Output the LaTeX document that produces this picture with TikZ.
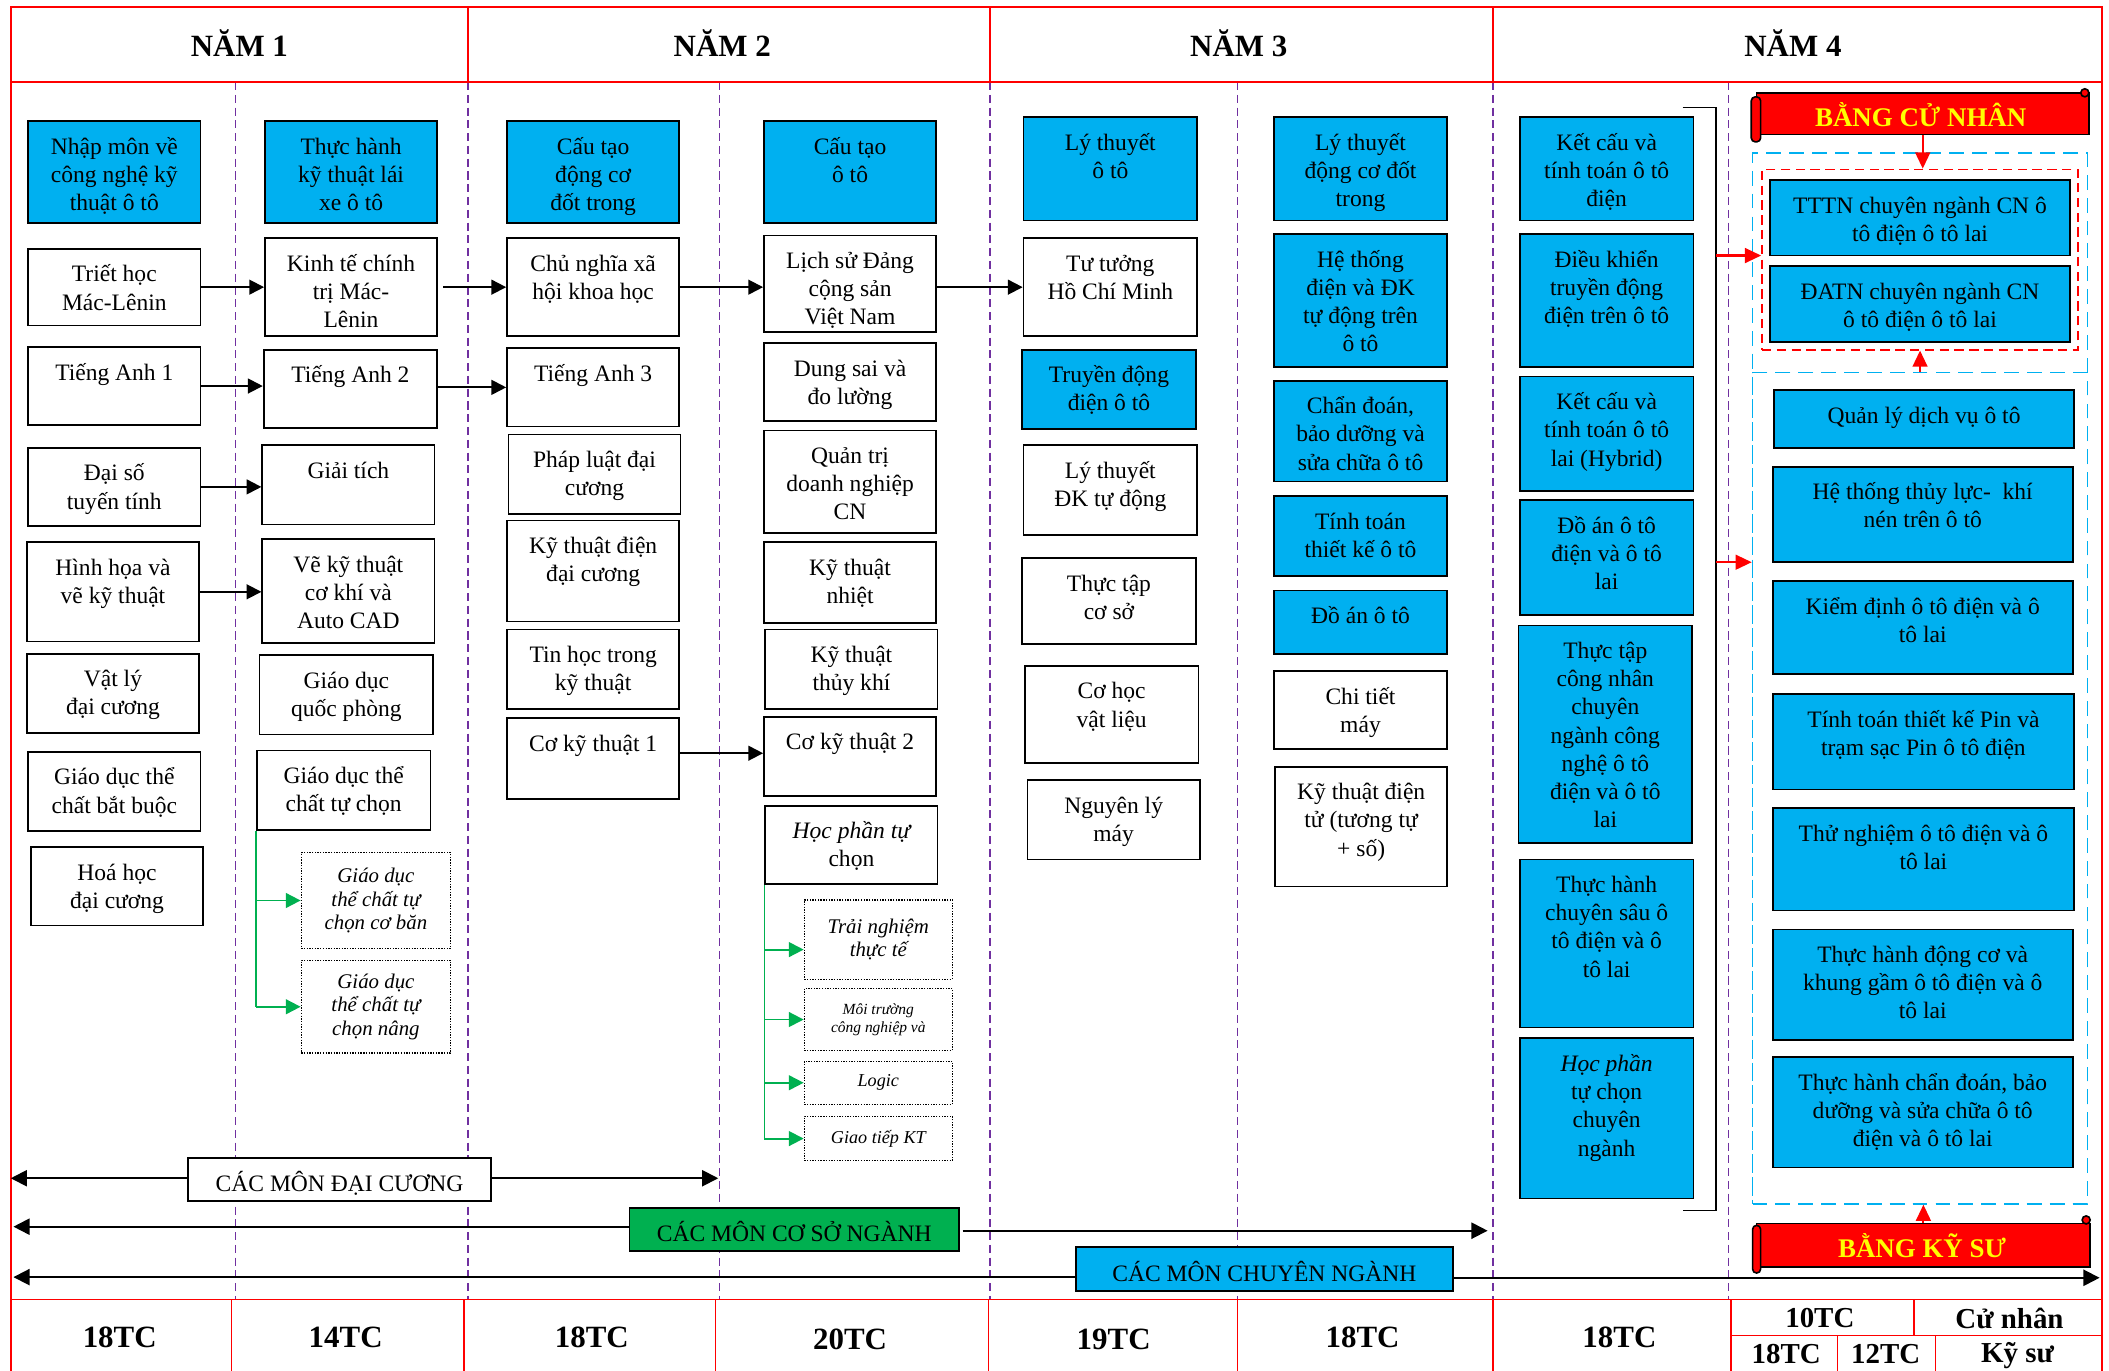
\documentclass[tikz,border=0pt]{standalone}
\usepackage{fontspec}
\setmainfont{Liberation Serif}
\usetikzlibrary{arrows.meta,fit}
\definecolor{cblue}{HTML}{00B0F0}
\definecolor{cgreen}{HTML}{00B050}
\definecolor{cpurple}{HTML}{7030A0}
\definecolor{cyellow}{HTML}{FFFF00}
\tikzset{
 box/.style={draw=black, line width=1.3pt, inner sep=0pt},
 wbox/.style={box, fill=white},
 bbox/.style={box, fill=cblue},
 txt/.style={font=\fontsize{17.5}{21}\selectfont, align=center, inner sep=0pt, anchor=north},
 dbox/.style={draw=black, line width=1pt, densely dotted, inner sep=0pt, align=center, font=\fontsize{15.5}{17.5}\selectfont\itshape},
 arr/.style={line width=1.4pt, -{Triangle[length=11pt,width=11pt]}},
 gline/.style={draw=cgreen, line width=1.4pt},
 garr/.style={draw=cgreen, fill=cgreen, line width=1.4pt, -{Triangle[length=11pt,width=11pt]}},
 rarr/.style={draw=red, fill=red, line width=1.6pt, -{Triangle[length=12pt,width=11pt]}},
 frame/.style={draw=red, line width=1.2pt},
 sem/.style={draw=cpurple, line width=1pt, dash pattern=on 6pt off 3.5pt},
 yearlbl/.style={font=\fontsize{23}{27}\selectfont\bfseries, anchor=base, inner sep=0pt},
 tclbl/.style={font=\fontsize{23}{27}\selectfont\bfseries, anchor=base, inner sep=0pt},
 tcsmall/.style={font=\fontsize{21.5}{25}\selectfont\bfseries, anchor=base, inner sep=0pt},
 span/.style={line width=1.4pt, -{Triangle[length=12pt,width=12pt]}},
 spanbox/.style={draw=black, line width=1.3pt, inner sep=0pt},
 spantxt/.style={font=\fontsize{17.5}{21}\selectfont, anchor=base, inner sep=0pt},
 banner/.style={draw=black, line width=1.2pt, fill=red},
 btxt/.style={font=\fontsize{20}{24}\selectfont\bfseries, text=cyellow, anchor=base, inner sep=0pt},
 rdash/.style={draw=red, line width=1.3pt, dash pattern=on 7pt off 4pt, inner sep=0pt},
 bdash/.style={draw=cblue, line width=1.3pt, dash pattern=on 11pt off 6pt, inner sep=0pt},
}
\newcommand\crs[7][wbox]{%
 \node[#1, fit={(#3,#4)(#5,#6)}] (#2) {};
 \node[txt] (#2t) at ([yshift=-8pt]#2.north) {\rule{0pt}{17pt}#7};}
\begin{document}
\begin{tikzpicture}[x=1pt,y=-1pt]
\useasboundingbox (0,0) rectangle (1568,1019);
\fill[white] (0,0) rectangle (1568,1019);

% semester dividers
\foreach \x in {175,348,535,736,920,1110,1285} \draw[sem] (\x,61) -- (\x,966);

% frame
\draw[frame] (8,1019) -- (8,5) -- (1563,5) -- (1563,1019);
\draw[frame] (8,61) -- (1563,61);
\foreach \x in {348,736,1110} \draw[frame] (\x,5) -- (\x,61);
\draw[frame] (8,966) -- (1563,966);
\foreach \x in {172,345,532,735,920,1110,1287} \draw[frame] (\x,966) -- (\x,1019);
\draw[frame] (1287,993) -- (1563,993);
\draw[frame] (1423,966) -- (1423,993);
\draw[frame] (1366,993) -- (1366,1019);
\draw[frame] (1439,993) -- (1439,1019);

% headers
\node[yearlbl] (y1) at (178,42) {NĂM 1};
\node[yearlbl] (y2) at (537,42) {NĂM 2};
\node[yearlbl] (y3) at (921,42) {NĂM 3};
\node[yearlbl] (y4) at (1333,42) {NĂM 4};

% credits
\node[tclbl] (t1) at (89,1002) {18TC};
\node[tclbl] (t2) at (257,1002) {14TC};
\node[tclbl] (t3) at (440,1002) {18TC};
\node[tclbl] (t4) at (632,1003) {20TC};
\node[tclbl] (t5) at (828,1003) {19TC};
\node[tclbl] (t6) at (1013,1002) {18TC};
\node[tclbl] (t7) at (1204,1002) {18TC};
\node[tcsmall] (t8) at (1353,987) {10TC};
\node[tcsmall] (t9) at (1494,988) {Cử nhân};
\node[tcsmall] (t10) at (1328,1014) {18TC};
\node[tcsmall] (t11) at (1402,1014) {12TC};
\node[tcsmall] (t12) at (1500,1013) {Kỹ sư};

% column 1
\crs[bbox]{a1}{21}{90}{149}{166}{Nhập môn về\\công nghệ kỹ\\thuật ô tô}
\crs{a2}{21}{185}{149}{242}{Triết học\\Mác-Lênin}
\crs{a3}{21}{258}{149}{316}{Tiếng Anh 1}
\crs{a4}{21}{333}{149}{391}{Đại số\\tuyến tính}
\crs{a5}{20}{403}{148}{477}{Hình họa và\\vẽ kỹ thuật}
\crs{a6}{20}{486}{148}{545}{Vật lý\\đại cương}
\crs{a7}{21}{559}{149}{618}{Giáo dục thể\\chất bắt buộc}
\crs{a8}{23}{630}{151}{688}{Hoá học\\đại cương}

% column 2
\crs[bbox]{b1}{197}{90}{325}{166}{Thực hành\\kỹ thuật lái\\xe ô tô}
\crs{b2}{197}{177}{325}{250}{Kinh tế chính\\trị Mác-\\Lênin}
\crs{b3}{196}{260}{325}{318}{Tiếng Anh 2}
\crs{b4}{195}{331}{323}{390}{Giải tích}
\crs{b5}{195}{401}{323}{478}{Vẽ kỹ thuật\\cơ khí và\\Auto CAD}
\crs{b6}{193}{487}{322}{546}{Giáo dục\\quốc phòng}
\crs{b7}{191}{558}{320}{617}{Giáo dục thể\\chất tự chọn}
\node[dbox, minimum width=111pt, minimum height=71pt] (b8) at (279.5,669.5) {Giáo dục\\thể chất tự\\chọn cơ băn};
\node[dbox, minimum width=111pt, minimum height=69pt] (b9) at (279.5,748.5) {Giáo dục\\thể chất tự\\chọn nâng};

% column 3
\crs[bbox]{c1}{377}{90}{505}{166}{Cấu tạo\\động cơ\\đốt trong}
\crs{c2}{377}{177}{505}{250}{Chủ nghĩa xã\\hội khoa học}
\crs{c3}{377}{259}{505}{317}{Tiếng Anh 3}
\crs{c4}{378}{323}{506}{382}{Pháp luật đại\\cương}
\crs{c5}{377}{387}{505}{462}{Kỹ thuật điện\\đại cương}
\crs{c6}{377}{468}{505}{527}{Tin học trong\\kỹ thuật}
\crs{c7}{377}{534}{505}{594}{Cơ kỹ thuật 1}

% column 4
\crs[bbox]{d1}{568}{90}{696}{166}{Cấu tạo\\ô tô}
\crs{d2}{568}{175}{696}{247}{Lịch sử Đảng\\cộng sản\\Việt Nam}
\crs{d3}{568}{255}{696}{313}{Dung sai và\\đo lường}
\crs{d4}{568}{320}{696}{396}{Quản trị\\doanh nghiệp\\CN}
\crs{d5}{568}{403}{696}{463}{Kỹ thuật\\nhiệt}
\crs{d6}{569}{468}{697}{527}{Kỹ thuật\\thủy khí}
\crs{d7}{568}{533}{696}{592}{Cơ kỹ thuật 2}
\crs{d8}{569}{599}{697}{657}{\itshape Học phần tự\\chọn}
\node[dbox, minimum width=110pt, minimum height=59pt] (d9) at (653,698.5) {Trải nghiệm\\thực tế};
\node[dbox, minimum width=110pt, minimum height=46pt, font=\fontsize{11.5}{13.5}\selectfont\itshape] (d10) at (653,758) {Môi trường\\công nghiệp và};
\node[dbox, minimum width=110pt, minimum height=32pt, font=\fontsize{13.5}{16}\selectfont\itshape] (d11) at (653,805) {Logic};
\node[dbox, minimum width=110pt, minimum height=33pt, font=\fontsize{13.5}{16}\selectfont\itshape] (d12) at (653,846.5) {Giao tiếp KT};

% column 5
\crs[bbox]{e1}{761}{87}{890}{164}{Lý thuyết\\ô tô}
\crs{e2}{761}{177}{890}{250}{Tư tưởng\\Hồ Chí Minh}
\crs[bbox]{e3}{760}{260}{889}{319}{Truyền động\\điện ô tô}
\crs{e4}{761}{331}{890}{398}{Lý thuyết\\ĐK tự động}
\crs{e5}{760}{415}{889}{479}{Thực tập\\cơ sở}
\crs{e6}{762}{495}{891}{567}{Cơ học\\vật liệu}
\crs{e7}{764}{580}{892}{639}{Nguyên lý\\máy}

% column 6
\crs[bbox]{f1}{947}{87}{1076}{164}{Lý thuyết\\động cơ đốt\\trong}
\crs[bbox]{f2}{947}{174}{1076}{273}{Hệ thống\\điện và ĐK\\tự động trên\\ô tô}
\crs[bbox]{f3}{947}{283}{1076}{358}{Chẩn đoán,\\bảo dưỡng và\\sửa chữa ô tô}
\crs[bbox]{f4}{947}{369}{1076}{428}{Tính toán\\thiết kế ô tô}
\crs[bbox]{f5}{947}{439}{1076}{486}{Đồ án ô tô}
\crs{f6}{947}{499}{1076}{557}{Chi tiết\\máy}
\crs{f7}{948}{570}{1076}{659}{Kỹ thuật điện\\tử (tương tự\\+ số)}

% column 7
\crs[bbox]{g1}{1130}{87}{1259}{164}{Kết cấu và\\tính toán ô tô\\điện}
\crs[bbox]{g2}{1130}{174}{1259}{273}{Điều khiển\\truyền động\\điện trên ô tô}
\crs[bbox]{g3}{1130}{280}{1259}{365}{Kết cấu và\\tính toán ô tô\\lai (Hybrid)}
\crs[bbox]{g4}{1130}{372}{1259}{457}{Đồ án ô tô\\điện và ô tô\\lai}
\crs[bbox]{g5}{1129}{465}{1258}{627}{Thực tập\\công nhân\\chuyên\\ngành công\\nghệ ô tô\\điện và ô tô\\lai}
\crs[bbox]{g6}{1130}{639}{1259}{764}{Thực hành\\chuyên sâu ô\\tô điện và ô\\tô lai}
\crs[bbox]{g7}{1130}{772}{1259}{891}{\itshape Học phần\\tự chọn\\chuyên\\ngành}

% bracket
\draw[line width=1.2pt] (1251,80) -- (1276,80) -- (1276,900) -- (1251,900);

% column 8 frames
\node[bdash, fit={(1303,114)(1552,895)}] (bd1) {};
\node[rdash, fit={(1310,126)(1545,260)}] (rd) {};
\node[bdash, fit={(1303,277)(1552,895)}] (bd2) {};

\crs[bbox]{h1}{1316}{134}{1539}{190}{TTTN chuyên ngành CN ô\\tô điện ô tô lai}
\crs[bbox]{h2}{1316}{198}{1539}{254}{ĐATN chuyên ngành CN\\ô tô điện ô tô lai}
\crs[bbox]{h3}{1319}{290}{1542}{333}{Quản lý dịch vụ ô tô}
\crs[bbox]{h4}{1318}{347}{1541}{418}{Hệ thống thủy lực-\ \ khí\\nén trên ô tô}
\crs[bbox]{h5}{1318}{432}{1541}{501}{Kiểm định ô tô điện và ô\\tô lai}
\crs[bbox]{h6}{1318}{516}{1542}{587}{Tính toán thiết kế Pin và\\trạm sạc Pin ô tô điện}
\crs[bbox]{h7}{1318}{601}{1542}{677}{Thử nghiệm ô tô điện và ô\\tô lai}
\crs[bbox]{h8}{1318}{691}{1541}{773}{Thực hành động cơ và\\khung gầm ô tô điện và ô\\tô lai}
\crs[bbox]{h9}{1318}{786}{1541}{868}{Thực hành chẩn đoán, bảo\\dưỡng và sửa chữa ô tô\\điện và ô tô lai}

% banners
\node[banner, fit={(1306,69)(1553,100)}, inner sep=0pt] (bcn) {};
\draw[banner, rounded corners=3pt] (1302,72) rectangle (1309,105.5);
\draw[banner] (1550,69) circle (3);
\node[btxt] (bcnt) at (1428,94) {BẰNG CỬ NHÂN};
\node[banner, fit={(1306,909.5)(1554,942)}, inner sep=0pt] (bks) {};
\draw[banner, rounded corners=3pt] (1303,911) rectangle (1309,946.5);
\draw[banner] (1551,907) circle (3);
\node[btxt] (bkst) at (1429,935) {BẰNG KỸ SƯ};

% red arrows
\draw[rarr] (bcn.south) -- (bcn.south |- rd.north);
\draw[rarr] (bd2.north) -- (bd2.north |- rd.south);
\draw[rarr] (bks.north) -- (bks.north |- bd2.south);
\coordinate (brk1) at (1276,190);
\coordinate (brk2) at (1276,418);
\draw[rarr] (brk1) -- (brk1 -| rd.west);
\draw[rarr] (brk2) -- (brk2 -| bd2.west);

% black prerequisite arrows
\draw[arr] (a2.east) -- (a2.east -| b2.west);
\draw[arr] (a3.east) -- (a3.east -| b3.west);
\draw[arr] (a4.east) -- (a4.east -| b4.west);
\draw[arr] (a5.east) -- (a5.east -| b5.west);
\draw[arr, shorten <=4pt] (b2.east) -- (b2.east -| c2.west);
\draw[arr] (c3.west -| b3.east) -- (c3.west);
\draw[arr] (c2.east) -- (c2.east -| d2.west);
\draw[arr] (e2.west -| d2.east) -- (e2.west);
\draw[arr] ([yshift=4pt]c7.east) -- ([yshift=4pt]c7.east -| d7.west);

% green elective arrows
\draw[gline] (b7.south west) -- (b7.south west |- b9.west);
\draw[garr] (b7.south west |- b8.west) -- (b8.west);
\draw[garr] (b7.south west |- b9.west) -- (b9.west);
\coordinate (d9in) at ([yshift=-7.5pt]d9.west);
\draw[gline] (d8.south west) -- (d8.south west |- d12.west);
\draw[garr] (d8.south west |- d9in) -- (d9in);
\draw[garr] (d8.south west |- d10.west) -- (d10.west);
\draw[garr] (d8.south west |- d11.west) -- (d11.west);
\draw[garr] (d8.south west |- d12.west) -- (d12.west);

% span arrows
\node[spanbox, fill=white, fit={(140,861)(365,893)}] (dc) {};
\node[spantxt] (dct) at (252.5,886) {CÁC MÔN ĐẠI CƯƠNG};
\coordinate (dcL) at (8,876);
\coordinate (dcR) at (534,876);
\draw[span] (dcL -| dc.west) -- (dcL);
\draw[span] (dcR -| dc.east) -- (dcR);

\node[spanbox, fill=cgreen, fit={(468,898)(713,930)}] (csn) {};
\node[spantxt] (csnt) at (590.5,923) {CÁC MÔN CƠ SỞ NGÀNH};
\coordinate (csnL) at (10,912);
\coordinate (csnR) at (1106,915);
\draw[span] (csnL -| csn.west) -- (csnL);
\draw[span] ([xshift=2pt]csnR -| csn.east) -- (csnR);

\node[spanbox, fill=cblue, fit={(800,927)(1080,960)}] (cn) {};
\node[spantxt] (cnt) at (940,952.5) {CÁC MÔN CHUYÊN NGÀNH};
\coordinate (cnL) at (10,949.5);
\coordinate (cnR) at (1561,950);
\draw[span] (cnL -| cn.west) -- (cnL);
\draw[span] (cnR -| cn.east) -- (cnR);
\end{tikzpicture}
\end{document}
